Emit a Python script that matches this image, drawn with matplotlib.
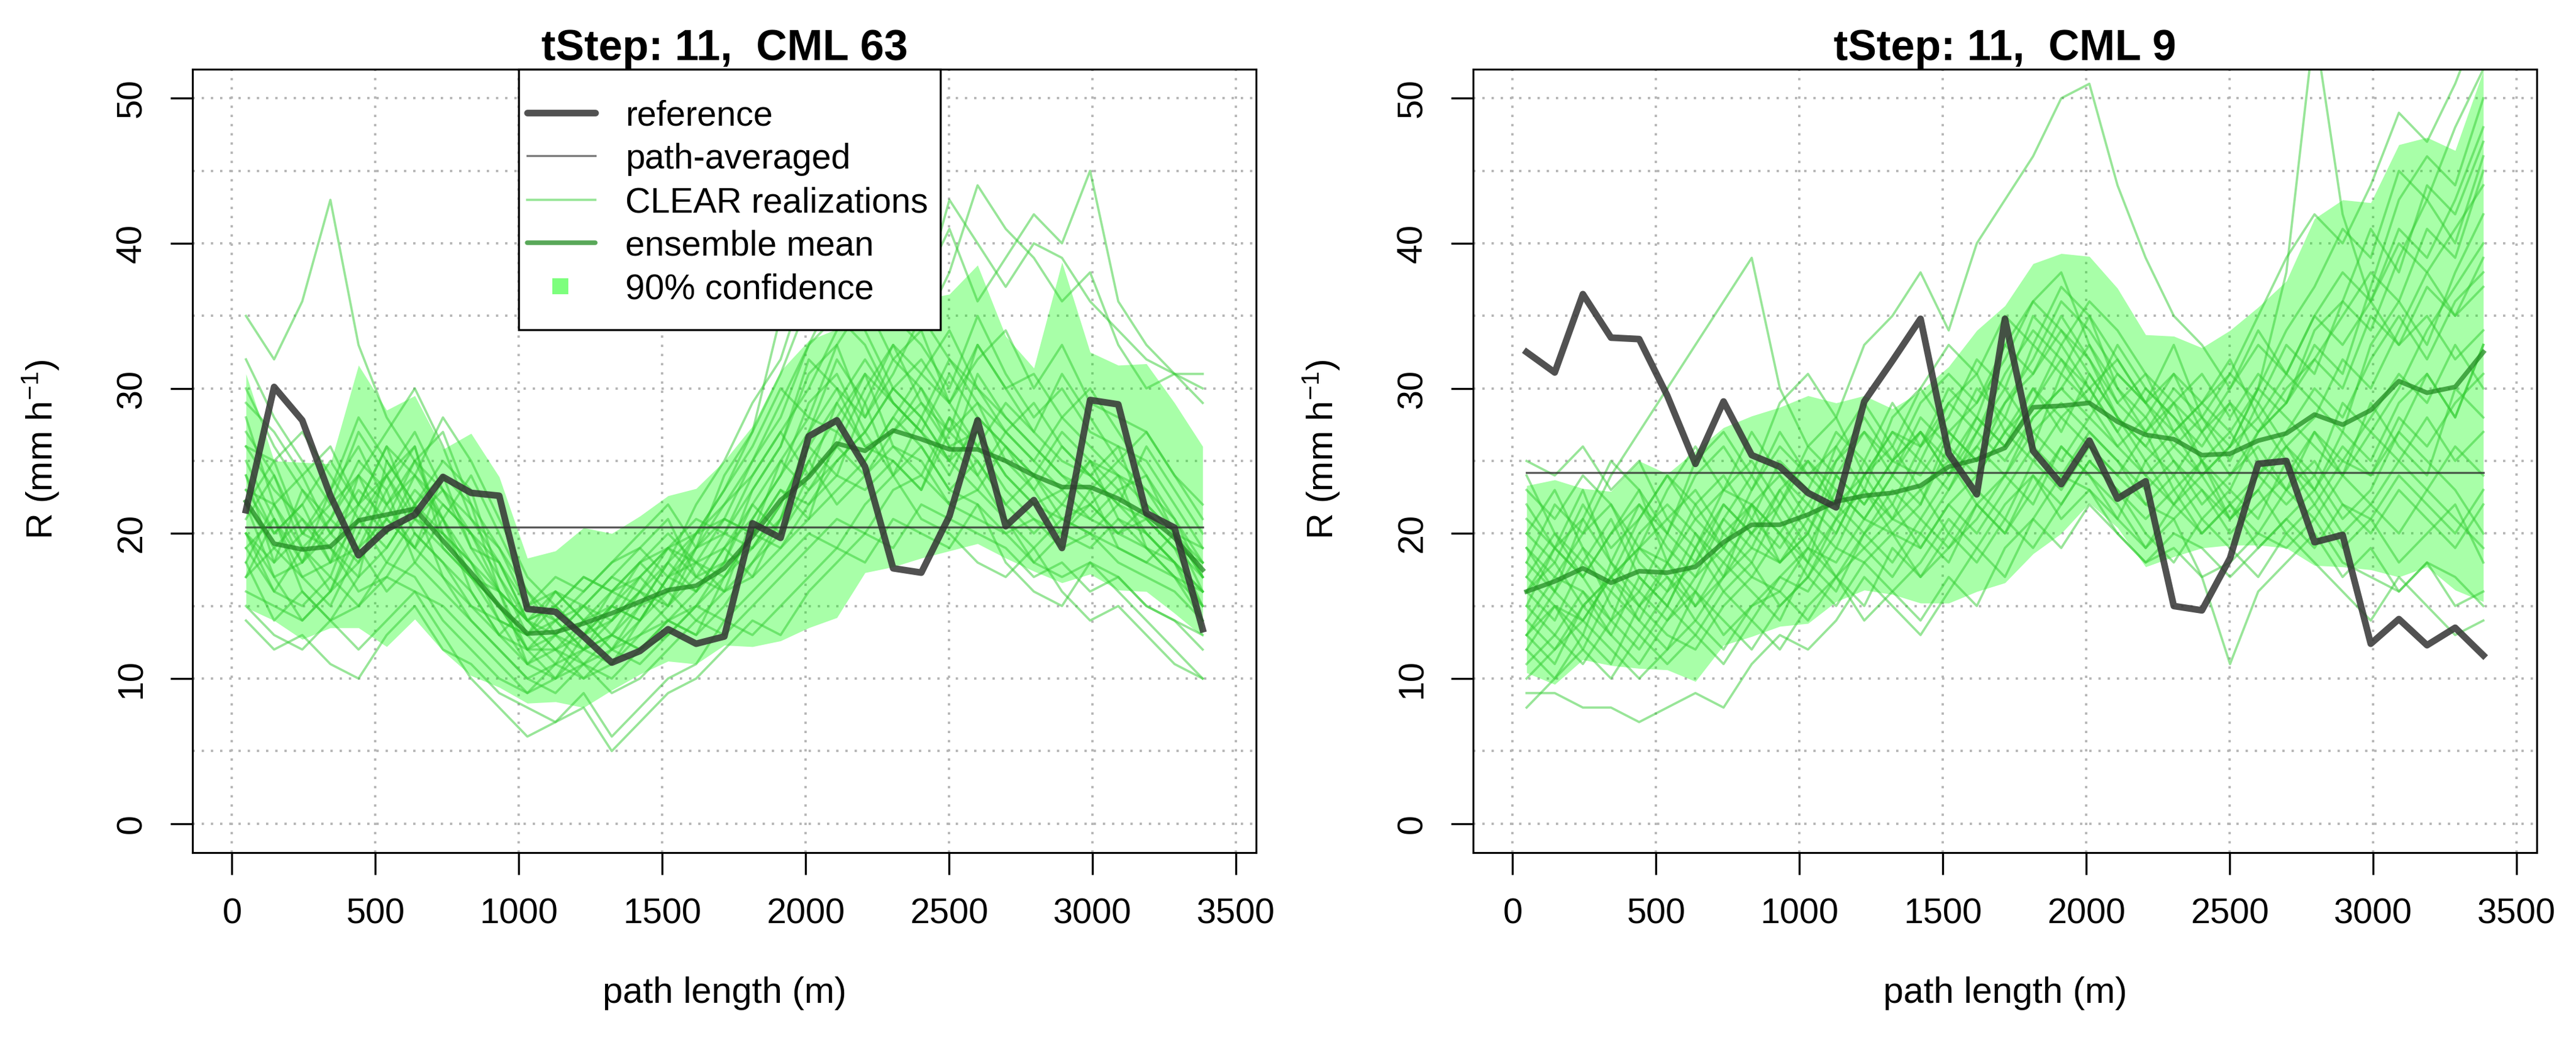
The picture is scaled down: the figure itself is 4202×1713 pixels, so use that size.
import numpy as np
import matplotlib
matplotlib.use("Agg")
import matplotlib.pyplot as plt
from matplotlib.patches import Rectangle

plt.rcParams["font.family"] = ["Liberation Sans", "DejaVu Sans"]
plt.rcParams["mathtext.fontset"] = "custom"
plt.rcParams["mathtext.rm"] = "Liberation Sans"
plt.rcParams["mathtext.it"] = "Liberation Sans:italic"
plt.rcParams["mathtext.bf"] = "Liberation Sans:bold"

# ---- data -------------------------------------------------------------
PATH_LENGTH = 3433          # m, same for both links
N_SEG = 35                  # number of sub-path segments
x_mid = (np.arange(N_SEG) + 0.5) * PATH_LENGTH / N_SEG

titles = ["tStep: 11,  CML 63", "tStep: 11,  CML 9"]

# CML 63
ref_63 = [21.6, 30.1, 27.8, 22.6, 18.5, 20.3, 21.3, 23.9, 22.8, 22.6,
          14.8, 14.6, 12.9, 11.1, 11.9, 13.4, 12.4, 12.9, 20.7, 19.7,
          26.7, 27.8, 24.6, 17.6, 17.3, 21.2, 27.8, 20.5, 22.3, 19.0,
          29.2, 28.9, 21.4, 20.4, 13.4]
pathavg_63 = 20.45
mean_63 = [22.2, 19.3, 18.9, 19.1, 20.9, 21.3, 21.7, 19.5, 17.3, 15.0,
           13.1, 13.2, 13.8, 14.5, 15.3, 16.1, 16.4, 17.6, 19.8, 22.3,
           23.9, 26.2, 25.7, 27.1, 26.5, 25.8, 25.8, 25.0, 24.0, 23.2,
           23.2, 22.4, 21.3, 19.7, 17.5]
hi_63 = [31.0, 25.0, 24.9, 24.8, 31.6, 28.5, 29.5, 25.8, 26.9, 23.9,
         18.3, 18.8, 20.4, 20.0, 21.2, 22.6, 23.1, 25.0, 27.4, 31.2,
         33.3, 34.1, 34.9, 35.5, 36.1, 36.5, 38.5, 33.6, 31.4, 38.7,
         32.5, 31.6, 31.7, 29.0, 26.0]
lo_63 = [14.9, 14.0, 12.7, 13.5, 13.5, 12.2, 14.1, 11.9, 10.2, 9.4,
         8.3, 8.4, 8.0, 9.2, 10.3, 11.2, 11.0, 12.3, 12.2, 12.6,
         13.5, 14.2, 17.3, 17.7, 18.3, 18.8, 19.3, 18.3, 17.4, 16.6,
         17.2, 16.1, 16.0, 14.5, 12.9]
real_63 = [
    [35, 32, 36, 43, 33, 28, 25, 27, 22, 19, 15, 17, 16, 18, 20, 22, 19, 24, 27, 31, 36, 38, 34, 30, 32, 29, 33, 30, 27, 31, 28, 25, 27, 24, 21],
    [32, 28, 25, 22, 24, 27, 30, 26, 21, 18, 14, 12, 13, 15, 14, 17, 20, 22, 25, 29, 33, 35, 33, 29, 27, 31, 28, 26, 24, 22, 25, 23, 20, 18, 16],
    [14, 12, 13, 11, 10, 13, 15, 12, 11, 9, 8, 7, 9, 6, 8, 10, 11, 14, 13, 15, 17, 19, 18, 21, 20, 19, 22, 18, 16, 15, 18, 16, 14, 12, 10],
    [27, 24, 20, 23, 28, 25, 22, 24, 19, 16, 12, 14, 12, 13, 16, 15, 18, 16, 21, 24, 27, 30, 28, 32, 30, 27, 29, 25, 23, 26, 24, 22, 21, 19, 17],
    [20, 17, 18, 21, 19, 23, 26, 20, 18, 14, 11, 10, 12, 11, 13, 14, 13, 15, 18, 21, 25, 28, 31, 26, 24, 28, 26, 23, 21, 20, 22, 24, 19, 17, 15],
    [25, 21, 16, 14, 17, 19, 22, 25, 23, 17, 13, 15, 17, 16, 18, 19, 21, 20, 24, 27, 30, 34, 38, 35, 33, 30, 35, 31, 28, 30, 27, 26, 25, 22, 19],
    [22, 19, 17, 18, 21, 24, 20, 18, 15, 13, 11, 12, 14, 15, 17, 19, 20, 23, 27, 35, 41, 48, 43, 37, 34, 38, 44, 41, 39, 36, 38, 33, 30, 31, 29],
    [18, 22, 24, 20, 23, 21, 19, 22, 20, 16, 14, 13, 15, 17, 16, 18, 22, 25, 29, 32, 38, 42, 46, 40, 37, 41, 36, 39, 42, 40, 45, 36, 33, 31, 31],
    [19, 16, 15, 17, 15, 18, 17, 14, 12, 10, 9, 11, 10, 12, 11, 13, 15, 14, 16, 18, 20, 19, 22, 24, 21, 20, 18, 17, 19, 16, 14, 15, 13, 11, 10],
    [23, 20, 22, 25, 22, 20, 23, 21, 17, 15, 13, 14, 16, 18, 19, 17, 16, 19, 22, 20, 23, 26, 24, 27, 29, 26, 24, 27, 25, 23, 21, 20, 22, 20, 17],
    [16, 15, 14, 16, 18, 22, 25, 23, 20, 17, 14, 12, 11, 13, 15, 16, 19, 21, 20, 23, 22, 25, 27, 30, 28, 25, 27, 24, 22, 21, 20, 19, 18, 17, 16],
    [30, 26, 23, 21, 25, 23, 18, 21, 24, 20, 16, 13, 12, 14, 16, 19, 17, 18, 19, 22, 26, 24, 29, 33, 31, 34, 30, 28, 26, 24, 23, 25, 23, 21, 18],
    [15, 13, 12, 14, 12, 14, 16, 13, 10, 8, 6, 7, 8, 5, 7, 9, 10, 12, 14, 13, 16, 18, 20, 19, 22, 21, 20, 19, 17, 18, 16, 17, 15, 14, 13],
    [21, 24, 19, 16, 20, 24, 27, 23, 19, 18, 15, 16, 14, 12, 14, 17, 18, 17, 20, 25, 28, 27, 31, 29, 27, 24, 28, 26, 24, 27, 25, 21, 20, 18, 15],
    [24, 18, 20, 19, 16, 17, 20, 18, 16, 13, 12, 10, 13, 15, 14, 16, 14, 16, 17, 19, 21, 23, 25, 28, 26, 23, 22, 20, 21, 19, 20, 18, 17, 16, 14],
    [17, 21, 18, 23, 26, 22, 24, 28, 25, 21, 17, 15, 13, 14, 17, 15, 19, 22, 24, 27, 24, 29, 26, 25, 23, 27, 25, 22, 20, 22, 21, 23, 24, 20, 18],
    [26, 23, 21, 18, 19, 16, 18, 16, 14, 12, 10, 11, 12, 13, 12, 14, 16, 18, 23, 26, 31, 33, 28, 31, 35, 32, 30, 27, 29, 26, 24, 22, 26, 23, 20],
    [20, 18, 23, 20, 22, 26, 21, 19, 17, 14, 13, 16, 15, 17, 19, 21, 17, 20, 19, 21, 25, 22, 24, 26, 25, 22, 23, 21, 18, 20, 19, 21, 19, 17, 14],
    [22, 25, 27, 24, 21, 19, 22, 20, 18, 16, 14, 15, 17, 16, 15, 18, 20, 21, 25, 28, 33, 37, 35, 39, 36, 43, 40, 37, 40, 39, 36, 34, 32, 31, 30],
    [28, 22, 19, 17, 22, 26, 24, 21, 18, 15, 12, 13, 11, 12, 15, 18, 16, 19, 21, 24, 29, 31, 27, 30, 28, 32, 29, 27, 25, 28, 26, 24, 22, 20, 16],
    [19, 21, 17, 15, 19, 21, 19, 17, 14, 12, 10, 9, 11, 10, 12, 13, 15, 17, 19, 22, 26, 29, 32, 29, 27, 25, 31, 28, 26, 24, 22, 20, 21, 19, 15],
    [24, 20, 22, 18, 24, 20, 24, 22, 20, 18, 14, 15, 13, 16, 17, 19, 18, 21, 20, 23, 21, 27, 25, 28, 31, 29, 26, 29, 27, 25, 24, 26, 21, 19, 18],
    [17, 19, 21, 19, 17, 25, 22, 17, 15, 14, 13, 11, 14, 12, 13, 15, 17, 16, 18, 20, 24, 26, 30, 33, 29, 27, 33, 30, 31, 28, 30, 27, 24, 21, 17],
    [22, 17, 14, 16, 21, 18, 21, 23, 21, 19, 16, 14, 15, 14, 16, 14, 15, 18, 22, 25, 23, 25, 27, 24, 26, 23, 25, 22, 24, 21, 22, 20, 19, 18, 14],
    [26, 25, 20, 22, 27, 24, 26, 19, 17, 15, 12, 12, 10, 11, 14, 17, 19, 20, 23, 26, 32, 30, 26, 27, 30, 26, 27, 24, 22, 23, 25, 24, 23, 20, 19],
    [20, 16, 19, 21, 24, 22, 19, 24, 22, 16, 11, 13, 15, 13, 12, 14, 13, 17, 20, 19, 22, 24, 23, 25, 23, 28, 24, 21, 19, 21, 20, 22, 20, 18, 16],
    [23, 22, 18, 20, 18, 21, 25, 21, 16, 13, 15, 14, 12, 15, 18, 20, 18, 19, 17, 21, 27, 32, 29, 24, 28, 25, 23, 26, 23, 20, 23, 19, 18, 20, 17],
    [18, 14, 16, 14, 15, 17, 16, 15, 13, 11, 9, 10, 11, 9, 10, 12, 14, 13, 15, 17, 19, 21, 20, 23, 24, 22, 21, 20, 18, 17, 18, 17, 15, 14, 12],
    [29, 27, 24, 26, 22, 24, 21, 20, 17, 16, 14, 16, 14, 16, 18, 16, 20, 23, 26, 30, 28, 33, 36, 32, 34, 29, 32, 34, 30, 33, 29, 28, 27, 24, 22],
]

# CML 9
ref_9 = [32.5, 31.1, 36.5, 33.5, 33.4, 29.5, 24.8, 29.1, 25.4, 24.6,
         22.8, 21.8, 29.1, 31.9, 34.8, 25.5, 22.7, 34.8, 25.7, 23.4,
         26.4, 22.4, 23.6, 15.0, 14.7, 18.3, 24.8, 25.0, 19.4, 19.9,
         12.4, 14.1, 12.3, 13.5, 11.6]
pathavg_9 = 24.2
mean_9 = [16.0, 16.7, 17.6, 16.6, 17.4, 17.3, 17.7, 19.4, 20.6, 20.6,
          21.3, 22.2, 22.6, 22.8, 23.3, 24.6, 25.1, 25.9, 28.7, 28.8,
          29.0, 27.7, 26.8, 26.5, 25.4, 25.5, 26.4, 26.9, 28.2, 27.5,
          28.5, 30.5, 29.7, 30.1, 32.5]
hi_9 = [23.3, 23.7, 23.1, 22.9, 25.0, 24.1, 25.7, 27.3, 28.1, 28.7,
        29.5, 29.0, 29.5, 28.6, 29.8, 31.5, 34.0, 35.7, 38.6, 39.3,
        39.1, 36.9, 33.7, 33.6, 32.8, 34.0, 35.6, 37.4, 41.7, 43.0,
        42.8, 46.8, 47.3, 46.4, 51.9]
lo_9 = [10.4, 9.6, 11.3, 10.9, 10.7, 10.6, 9.8, 12.3, 12.9, 13.6,
        13.8, 15.3, 16.1, 15.8, 15.2, 15.2, 16.0, 16.6, 18.6, 20.0,
        22.1, 20.4, 17.7, 18.4, 19.0, 19.2, 19.2, 19.0, 17.8, 17.7,
        17.5, 17.0, 17.7, 16.1, 15.3]
real_9 = [
    [21, 19, 23, 18, 22, 20, 25, 27, 24, 29, 31, 28, 33, 35, 38, 34, 40, 43, 46, 50, 51, 44, 39, 35, 33, 30, 34, 31, 35, 33, 36, 40, 38, 41, 44],
    [9, 9, 8, 8, 7, 8, 9, 8, 11, 13, 12, 14, 17, 15, 13, 16, 19, 17, 21, 24, 23, 20, 18, 19, 17, 18, 20, 19, 21, 18, 17, 16, 18, 15, 16],
    [16, 14, 18, 21, 17, 15, 19, 23, 22, 18, 20, 25, 27, 24, 22, 26, 30, 28, 33, 31, 35, 30, 27, 29, 25, 23, 27, 29, 33, 31, 37, 43, 46, 44, 50],
    [13, 15, 12, 16, 14, 18, 16, 20, 18, 22, 19, 23, 21, 24, 27, 25, 28, 26, 30, 27, 31, 28, 25, 27, 24, 26, 30, 38, 55, 42, 36, 33, 35, 32, 34],
    [18, 22, 20, 24, 27, 30, 33, 36, 39, 30, 26, 28, 24, 27, 25, 29, 31, 27, 29, 33, 30, 27, 24, 22, 25, 21, 24, 26, 23, 27, 25, 29, 31, 28, 33],
    [12, 10, 13, 11, 15, 13, 12, 15, 17, 16, 19, 18, 21, 20, 19, 22, 24, 27, 25, 28, 26, 24, 22, 21, 23, 20, 22, 24, 27, 25, 24, 28, 26, 29, 31],
    [15, 19, 17, 14, 16, 20, 18, 21, 19, 23, 25, 22, 24, 27, 26, 29, 27, 31, 34, 32, 29, 33, 30, 28, 26, 29, 27, 30, 32, 35, 38, 36, 41, 39, 45],
    [25, 24, 26, 23, 25, 21, 23, 20, 22, 24, 21, 26, 23, 28, 30, 27, 25, 29, 32, 36, 34, 31, 29, 33, 28, 26, 30, 28, 26, 24, 27, 30, 34, 37, 40],
    [14, 12, 15, 13, 11, 14, 16, 13, 15, 17, 16, 19, 18, 16, 18, 21, 19, 22, 24, 22, 25, 23, 20, 18, 21, 19, 17, 20, 18, 16, 14, 17, 15, 13, 14],
    [19, 17, 20, 22, 18, 16, 20, 18, 21, 19, 22, 20, 24, 26, 23, 25, 22, 24, 28, 30, 33, 29, 31, 27, 29, 32, 28, 31, 29, 27, 33, 36, 33, 38, 42],
    [11, 13, 16, 14, 19, 17, 15, 18, 16, 14, 18, 21, 19, 17, 20, 23, 26, 24, 27, 29, 27, 25, 23, 25, 22, 24, 26, 23, 25, 22, 21, 24, 22, 20, 23],
    [17, 15, 14, 17, 19, 18, 21, 19, 22, 20, 23, 21, 25, 22, 26, 30, 28, 33, 31, 35, 32, 29, 27, 30, 28, 31, 35, 39, 42, 40, 44, 49, 47, 51, 56],
    [20, 23, 19, 17, 21, 24, 22, 19, 23, 26, 24, 22, 20, 23, 21, 24, 27, 30, 27, 25, 28, 26, 28, 25, 23, 21, 23, 26, 24, 29, 27, 25, 28, 25, 27],
    [16, 18, 15, 17, 15, 17, 14, 17, 19, 18, 20, 17, 19, 21, 20, 18, 22, 20, 23, 26, 24, 22, 19, 21, 17, 11, 16, 18, 20, 17, 19, 16, 18, 17, 15],
    [13, 16, 19, 15, 13, 16, 18, 22, 20, 22, 25, 23, 21, 24, 28, 26, 24, 27, 30, 28, 30, 32, 29, 26, 28, 25, 29, 33, 31, 36, 34, 39, 43, 40, 46],
    [24, 20, 17, 20, 22, 19, 17, 21, 24, 21, 18, 24, 22, 25, 24, 27, 29, 32, 36, 34, 31, 28, 26, 24, 27, 29, 25, 23, 27, 24, 29, 26, 24, 30, 28],
    [8, 10, 12, 10, 13, 11, 13, 11, 14, 12, 15, 17, 14, 16, 14, 17, 15, 19, 21, 19, 22, 20, 18, 20, 19, 17, 19, 21, 19, 22, 20, 23, 21, 19, 22],
    [18, 16, 21, 25, 23, 20, 24, 26, 23, 27, 24, 26, 29, 26, 30, 33, 31, 35, 33, 37, 35, 32, 29, 31, 29, 27, 30, 34, 37, 41, 39, 45, 43, 48, 52],
    [14, 17, 16, 13, 17, 15, 19, 16, 18, 15, 17, 20, 24, 21, 23, 20, 23, 21, 25, 23, 26, 24, 27, 23, 25, 22, 24, 22, 24, 21, 23, 27, 25, 23, 20],
    [17, 20, 18, 16, 20, 22, 20, 17, 20, 23, 20, 24, 27, 25, 27, 24, 26, 29, 31, 34, 32, 28, 26, 29, 27, 24, 27, 29, 32, 30, 35, 33, 37, 35, 39],
    [12, 15, 13, 18, 16, 14, 17, 19, 17, 20, 18, 16, 20, 22, 19, 22, 20, 23, 26, 24, 27, 25, 22, 24, 21, 23, 21, 25, 23, 26, 24, 27, 31, 28, 33],
    [20, 18, 22, 19, 21, 24, 21, 23, 25, 22, 26, 24, 22, 25, 27, 24, 28, 26, 29, 32, 30, 27, 30, 28, 25, 27, 24, 27, 30, 28, 32, 35, 32, 36, 38],
    [15, 13, 11, 14, 12, 15, 13, 16, 14, 17, 19, 17, 20, 18, 21, 19, 21, 24, 22, 26, 24, 21, 19, 22, 20, 22, 19, 21, 23, 20, 22, 20, 23, 21, 19],
    [22, 19, 17, 20, 23, 18, 22, 24, 21, 25, 23, 27, 25, 29, 26, 28, 32, 30, 35, 33, 36, 34, 31, 29, 31, 28, 31, 29, 34, 36, 41, 38, 44, 42, 47],
    [10, 12, 14, 12, 10, 12, 14, 12, 15, 16, 14, 17, 15, 19, 17, 20, 18, 21, 19, 22, 25, 23, 21, 23, 20, 22, 20, 23, 21, 24, 22, 25, 23, 26, 24],
    [19, 16, 14, 17, 19, 21, 19, 22, 20, 18, 21, 19, 23, 21, 25, 23, 27, 25, 28, 30, 28, 31, 29, 27, 29, 31, 29, 26, 28, 32, 30, 34, 38, 35, 37],
    [16, 19, 21, 18, 15, 18, 15, 17, 22, 20, 17, 21, 23, 20, 22, 27, 25, 28, 26, 31, 29, 26, 24, 26, 24, 26, 28, 25, 22, 25, 28, 31, 29, 33, 30],
    [13, 11, 15, 17, 14, 12, 16, 14, 12, 15, 17, 15, 18, 20, 17, 19, 22, 20, 24, 21, 23, 21, 25, 22, 24, 21, 23, 20, 22, 19, 21, 18, 20, 22, 18],
    [23, 21, 24, 22, 19, 23, 26, 23, 27, 24, 22, 25, 28, 25, 29, 31, 29, 33, 36, 38, 33, 30, 28, 31, 27, 30, 33, 31, 35, 38, 36, 41, 39, 43, 48],
]

for arr in [ref_63, mean_63, hi_63, lo_63, ref_9, mean_9, hi_9, lo_9] + real_63 + real_9:
    assert len(arr) == N_SEG, len(arr)

# ---- styles -----------------------------------------------------------
C_REF = "#333333"
C_REAL = "#32CD32"
C_MEAN = "#228B22"
C_BAND = "#00FF00"
C_GRID = "#B4B4B4"


def draw_panel(ax, title, ref, pathavg, mean, lo, hi, reals):
    ax.fill_between(x_mid, lo, hi, color=C_BAND, alpha=0.34, lw=0, zorder=1)
    for r in reals:
        ax.plot(x_mid, r, color=C_REAL, alpha=0.5, lw=0.9, zorder=2)
    ax.plot([x_mid[0], x_mid[-1]], [pathavg, pathavg], color=C_REF, alpha=0.8,
            lw=0.8, zorder=3)
    ax.plot(x_mid, mean, color=C_MEAN, alpha=0.75, lw=1.8, zorder=4)
    ax.plot(x_mid, ref, color=C_REF, alpha=0.85, lw=2.6, zorder=5,
            solid_joinstyle="round")

    ax.set_xlim(-0.04 * PATH_LENGTH, 1.04 * PATH_LENGTH)
    ax.set_ylim(-2, 52)
    ax.set_xticks(np.arange(0, 3501, 500))
    ax.set_yticks(np.arange(0, 51, 10))
    ax.set_yticks(np.arange(0, 51, 5), minor=True)
    ax.tick_params(axis="y", which="minor", length=0)
    ax.tick_params(axis="both", which="major", direction="out", length=8.6,
                   width=0.8, labelsize=13.8)
    ax.tick_params(axis="x", pad=9)
    ax.tick_params(axis="y", pad=8.6)
    for lab in ax.get_yticklabels():
        lab.set_rotation(90)
        lab.set_va("center")
    ax.grid(True, which="both", color=C_GRID, lw=0.9, ls=(0, (1, 3)), zorder=0)
    ax.set_axisbelow(True)
    for sp in ax.spines.values():
        sp.set_linewidth(0.75)
        sp.set_color("black")

    ax.set_title(title, fontsize=16.8, fontweight="bold", pad=3)
    ax.set_xlabel("path length (m)", fontsize=14.2, labelpad=18)
    ax.set_ylabel("R (mm h$^{-1}$)", fontsize=14.2)
    ax.yaxis.set_label_coords(-0.1233, 0.515)


def draw_legend(ax):
    tr = ax.transAxes
    ax.add_patch(Rectangle((0.3066, 0.6674), 0.7032 - 0.3066, 1.0 - 0.6674,
                           transform=tr, facecolor="white", edgecolor="black",
                           lw=0.8, zorder=10, clip_on=False))
    rows = [0.9441, 0.8893, 0.8333, 0.7782, 0.7230]
    labels = ["reference", "path-averaged", "CLEAR realizations",
              "ensemble mean", "90% confidence"]
    hx = [0.3147, 0.3787]
    ax.plot(hx, [rows[0]] * 2, transform=tr, color=C_REF, alpha=0.85, lw=2.6,
            solid_capstyle="round", zorder=11, clip_on=False)
    ax.plot(hx, [rows[1]] * 2, transform=tr, color=C_REF, alpha=0.65, lw=0.8,
            zorder=11, clip_on=False)
    ax.plot(hx, [rows[2]] * 2, transform=tr, color=C_REAL, alpha=0.5, lw=0.9,
            zorder=11, clip_on=False)
    ax.plot(hx, [rows[3]] * 2, transform=tr, color=C_MEAN, alpha=0.75, lw=1.8,
            solid_capstyle="round", zorder=11, clip_on=False)
    ax.plot([0.3458], [rows[4]], transform=tr, marker="s", ms=6.2, mew=0,
            color="#7DFF7D", zorder=11, clip_on=False)
    for y, lab in zip(rows, labels):
        ax.text(0.4069, y - 0.0157, lab, transform=tr, fontsize=13.7,
                va="baseline", ha="left", zorder=12)


fig = plt.figure(figsize=(4202 / 300, 1713 / 300), dpi=300)
ax1 = fig.add_axes([0.07473, 0.18797, 0.41290, 0.74606])
ax2 = fig.add_axes([0.57187, 0.18797, 0.41290, 0.74606])

draw_panel(ax1, titles[0], ref_63, pathavg_63, mean_63, lo_63, hi_63, real_63)
draw_panel(ax2, titles[1], ref_9, pathavg_9, mean_9, lo_9, hi_9, real_9)
draw_legend(ax1)

fig.savefig("out.png", dpi=300)
